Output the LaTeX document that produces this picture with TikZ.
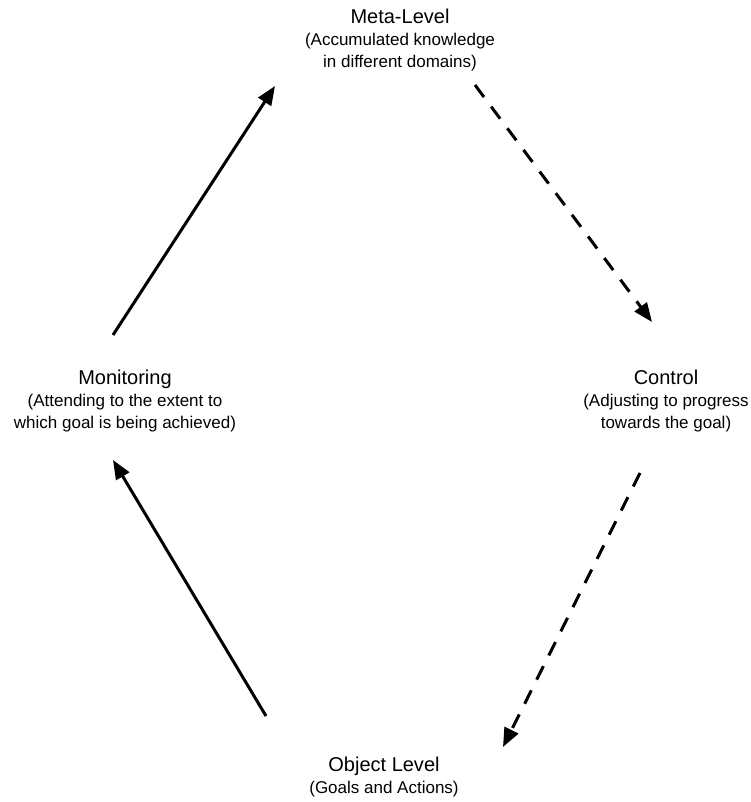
\documentclass[tikz,border=0pt]{standalone}
\usepackage{fontspec}
\setmainfont{Liberation Sans}
\usepackage{xcolor}
\usepackage{tikz}
\usetikzlibrary{positioning, arrows.meta}

\newcommand{\levelname}[1]{{\fontsize{20}{22}\selectfont #1}}

\begin{document}
\begin{tikzpicture}[x=1pt, y=-1pt]
    % Styles
    \tikzstyle{level} = [anchor=north, align=center, inner sep=0pt, font=\fontsize{17}{22}\selectfont]
    \tikzstyle{line} = [draw, -{Triangle[length=19pt, width=15pt]}, line width=3pt, black]
    \tikzstyle{dashline} = [line, dash pattern=on 15pt off 12pt]

    \useasboundingbox (0,0) rectangle (751,802);

    % Nodes
    \node [level] (meta) at (400,9) {\levelname{Meta-Level}\\(Accumulated knowledge\\in different domains)};
    \node [level] (control) at (666,370) {\levelname{Control}\\(Adjusting to progress\\towards the goal)};
    \node [level] (monitor) at (125,370) {\levelname{Monitoring}\\(Attending to the extent to\\which goal is being achieved)};
    \node [level] (object) at (384,757) {\levelname{Object Level}\\(Goals and Actions)};

    % Arrow ends
    \coordinate (monout) at (113,335);
    \coordinate (metain) at (275,86);
    \coordinate (metaout) at (475,85);
    \coordinate (ctrlin) at (652,322);
    \coordinate (ctrlout) at (640,473);
    \coordinate (objin) at (503,747);
    \coordinate (objout) at (266,716);
    \coordinate (monin) at (113,460);

    % Paths
    \path [line] (monout) -- (metain);
    \path [dashline] (metaout) -- (ctrlin);
    \path [dashline] (ctrlout) -- (objin);
    \path [line] (objout) -- (monin);
\end{tikzpicture}
\end{document}
